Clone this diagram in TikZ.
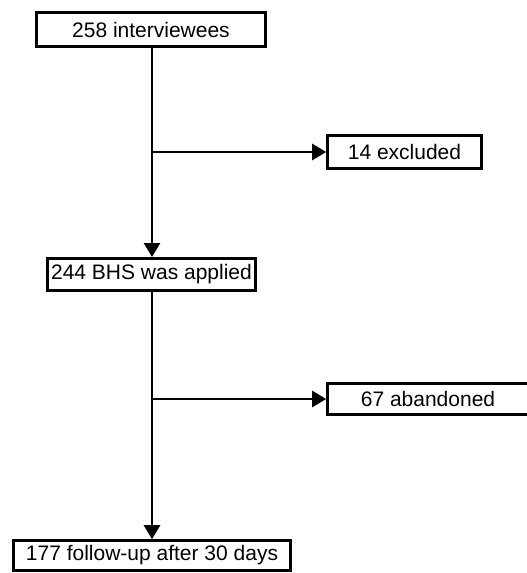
\documentclass[tikz,border=0pt]{standalone}
\usepackage{fontspec}
\setmainfont{Liberation Sans}
\usetikzlibrary{arrows.meta}
\begin{document}
\begin{tikzpicture}[x=1pt,y=-1pt,
  box/.style={draw=black, line width=2.6pt, inner sep=0pt, font=\fontsize{21}{25}\selectfont, text=black},
  conn/.style={line width=2.6pt, -{Triangle[length=14pt,width=16pt]}}]
\useasboundingbox (0,0) rectangle (527,573);
\node[box, minimum width=229pt, minimum height=34pt] (b1) at (151,29.5) {258 interviewees};
\node[box, minimum width=154pt, minimum height=33pt] (ex) at (404.5,152) {14 excluded};
\node[box, minimum width=208pt, minimum height=32pt] (b2) at (151.5,274.5) {244 BHS was applied};
\node[box, minimum width=201pt, minimum height=31pt] (ab) at (428,399) {67 abandoned};
\node[box, minimum width=277pt, minimum height=30pt] (b3) at (152,555.5) {177 follow-up after 30 days};
\coordinate (c1) at (152,152);
\coordinate (c2) at (152,399);
\draw[conn] (152,48) -- (152,257) coordinate (t2);
\draw[line width=2.6pt] (b1.south -| c1) -- (c1);
\draw[conn] (c1) -- (ex.west);
\draw[conn] (b2.south -| c2) -- (b3.north -| c2);
\draw[conn] (c2) -- (ab.west);
\end{tikzpicture}
\end{document}
